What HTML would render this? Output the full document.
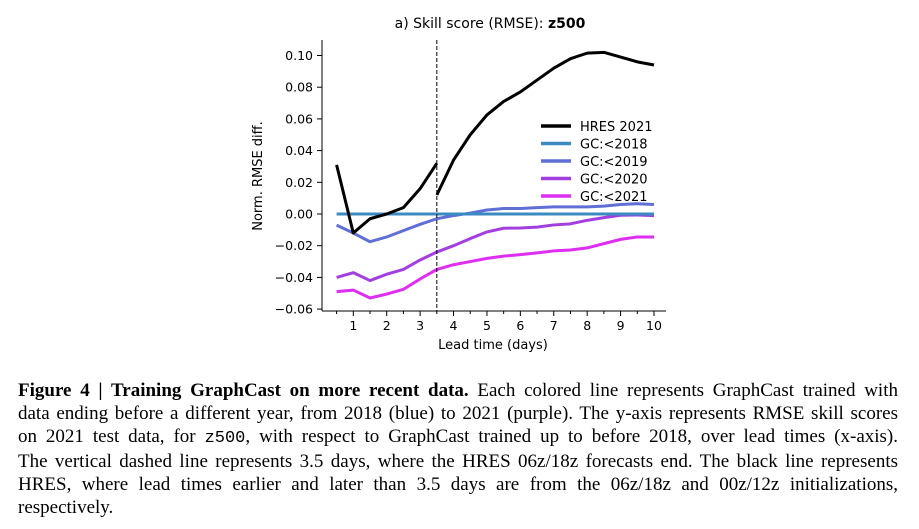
<!DOCTYPE html>
<html><head><meta charset="utf-8"><style>
body{margin:0;background:#fff;width:919px;height:529px;overflow:hidden;position:relative}
svg text{font-family:"DejaVu Sans","Liberation Sans",sans-serif}
#cap{position:absolute;left:18px;top:379px;width:880px;font-family:"Liberation Serif",serif;font-size:19px;line-height:23px;color:#000}
#cap div{text-align:justify;text-align-last:justify;white-space:nowrap}
#cap div.last{text-align-last:left}
#cap code{font-family:"Liberation Mono",monospace;font-size:17px}
</style></head><body>
<svg id="chart" width="919" height="370" style="position:absolute;left:0;top:0"></svg>
<div id="cap">
<div><b>Figure 4 | Training GraphCast on more recent data.</b> Each colored line represents GraphCast trained with</div>
<div>data ending before a different year, from 2018 (blue) to 2021 (purple). The y-axis represents RMSE skill scores</div>
<div>on 2021 test data, for <code>z500</code>, with respect to GraphCast trained up to before 2018, over lead times (x-axis).</div>
<div>The vertical dashed line represents 3.5 days, where the HRES 06z/18z forecasts end. The black line represents</div>
<div>HRES, where lead times earlier and later than 3.5 days are from the 06z/18z and 00z/12z initializations,</div>
<div class="last">respectively.</div>
</div>
<script>
const leadDays=[0.5,1,1.5,2,2.5,3,3.5,4,4.5,5,5.5,6,6.5,7,7.5,8,8.5,9,9.5,10];
const hresEarlyDays=[0.5,1,1.5,2,2.5,3,3.5];
const hresEarly=[0.031,-0.012,-0.003,0.0,0.004,0.016,0.032];
const hresLateDays=[3.5,4,4.5,5,5.5,6,6.5,7,7.5,8,8.5,9,9.5,10];
const hresLate=[0.012,0.034,0.05,0.0625,0.071,0.077,0.0845,0.092,0.098,0.1015,0.102,0.099,0.096,0.094];
const gc2018=[0,0,0,0,0,0,0,0,0,0,0,0,0,0,0,0,0,0,0,0];
const gc2019=[-0.007,-0.012,-0.0175,-0.0145,-0.0105,-0.0065,-0.003,-0.001,0.0006,0.0025,0.0035,0.0035,0.004,0.0045,0.0045,0.0045,0.005,0.006,0.0065,0.006];
const gc2020=[-0.040,-0.037,-0.042,-0.038,-0.035,-0.029,-0.024,-0.020,-0.0155,-0.0113,-0.009,-0.0088,-0.0083,-0.0069,-0.0062,-0.004,-0.0023,-0.0008,-0.0006,-0.001];
const gc2021=[-0.049,-0.048,-0.053,-0.0505,-0.0475,-0.041,-0.035,-0.032,-0.030,-0.028,-0.0266,-0.0256,-0.0245,-0.0233,-0.0227,-0.0214,-0.0187,-0.016,-0.0145,-0.0145];
const yTicks=[0.10,0.08,0.06,0.04,0.02,0.00,-0.02,-0.04,-0.06];
const yTickLabels=["0.10","0.08","0.06","0.04","0.02","0.00","\u22120.02","\u22120.04","\u22120.06"];
const xTicks=[1,2,3,4,5,6,7,8,9,10];
const legendLabels=["HRES 2021","GC:<2018","GC:<2019","GC:<2020","GC:<2021"];

const X=d=>353.3+(d-1)*33.41;
const Y=v=>214-v*1585;
const NS="http://www.w3.org/2000/svg";
const svg=document.getElementById('chart');
function mk(t,a){const e=document.createElementNS(NS,t);for(const k in a)e.setAttribute(k,a[k]);svg.appendChild(e);return e;}
function txt(s,a){const e=mk('text',a);e.textContent=s;return e;}

let t=txt('a) Skill score (RMSE): ',{x:490,y:28,'text-anchor':'middle','font-size':14});

const b=document.createElementNS(NS,'tspan');b.setAttribute('font-weight','bold');b.textContent='z500';t.appendChild(b);

let ax=mk('line',{x1:322,y1:40,x2:322,y2:311,stroke:'#000','stroke-width':1});

ax=mk('line',{x1:322,y1:311,x2:666,y2:311,stroke:'#000','stroke-width':1});


yTicks.forEach((v,i)=>{
 mk('line',{x1:317,x2:322,y1:Y(v),y2:Y(v),stroke:'#000'});
 const l=txt(yTickLabels[i],{x:313,y:Y(v)+4.5,'text-anchor':'end','font-size':12.5});
 
});
for(let d=0.5;d<=10.01;d+=0.5){mk('line',{x1:X(d),x2:X(d),y1:311,y2:(d%1===0)?316:314,stroke:'#000'});}
xTicks.forEach(d=>{
 const l=txt(String(d),{x:X(d),y:330,'text-anchor':'middle','font-size':12.5});
 
});
t=txt('Lead time (days)',{x:493,y:349,'text-anchor':'middle','font-size':13});

t=txt('Norm. RMSE diff.',{x:0,y:0,'text-anchor':'middle','font-size':13,transform:'translate(262,176) rotate(-90)'});


function line(xs,ys,color,name){
 const p=mk('polyline',{points:xs.map((d,i)=>X(d)+','+Y(ys[i])).join(' '),fill:'none',stroke:color,'stroke-width':3,'stroke-linejoin':'round'});
 
}
line(leadDays,gc2021,'#dd2ef2','line-gc-2021');
line(leadDays,gc2020,'#a33ee0','line-gc-2020');
line(leadDays,gc2019,'#5f6fd6','line-gc-2019');
line(leadDays,gc2018,'#3b8bc2','line-gc-2018');
line(hresEarlyDays,hresEarly,'#000','line-hres-early');
line(hresLateDays,hresLate,'#000','line-hres-late');

let dl=mk('line',{x1:X(3.5),x2:X(3.5),y1:40,y2:311,stroke:'#000','stroke-width':1,'stroke-dasharray':'4,2'});


const legColors=['#000','#3b8bc2','#5f6fd6','#a33ee0','#dd2ef2'];
legendLabels.forEach((s,i)=>{
 const y=126+i*17.5;
 const sw=mk('line',{x1:541,x2:571,y1:y,y2:y,stroke:legColors[i],'stroke-width':3.5});
 
 const l=txt(s,{x:580,y:y+5,'font-size':13});
 
});
</script>
</body></html>
